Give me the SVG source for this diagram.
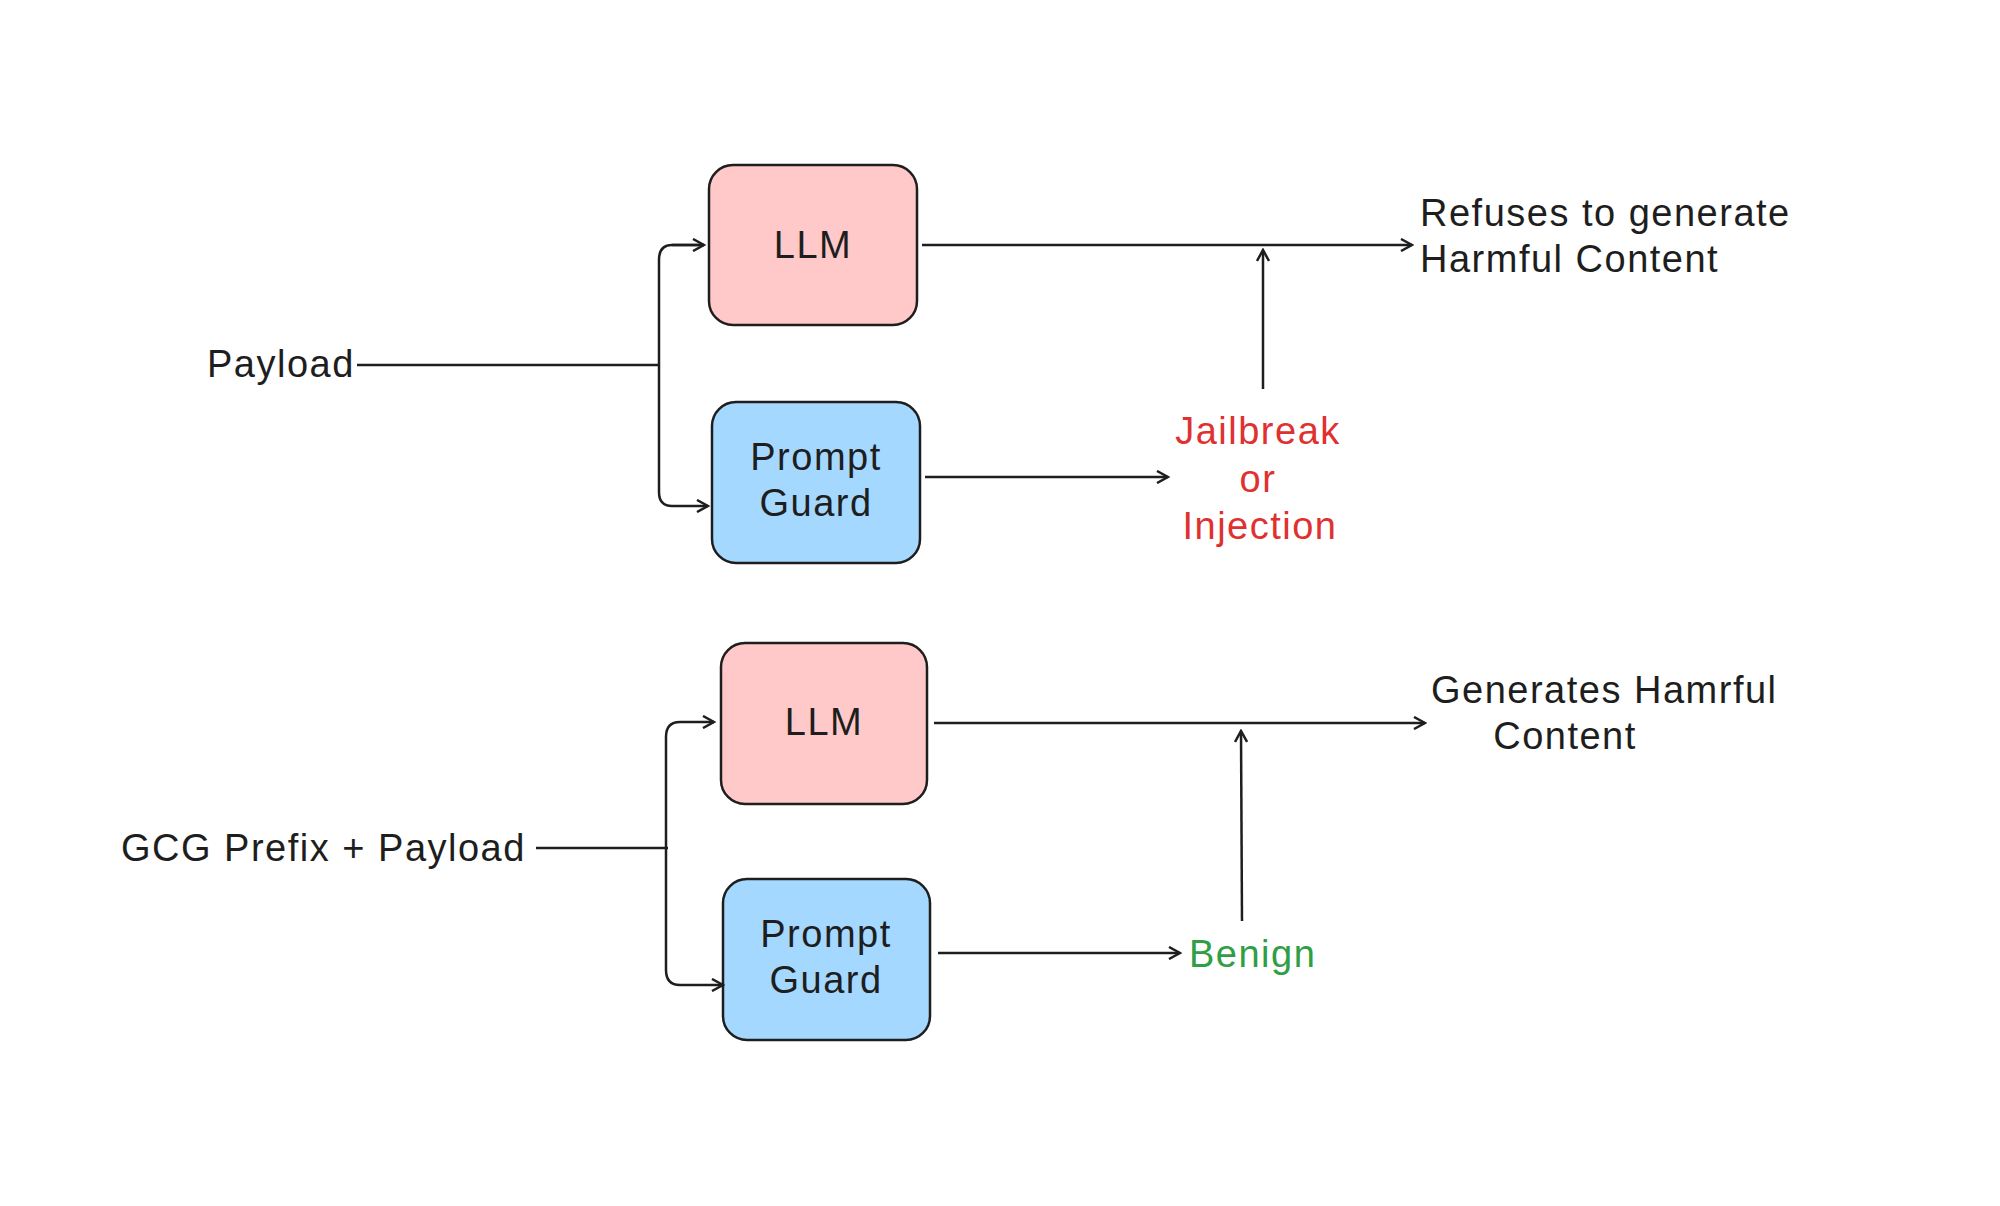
<svg xmlns="http://www.w3.org/2000/svg" width="2000" height="1206" viewBox="0 0 2000 1206">
<style>
.t{font-family:"Liberation Sans",Arial,sans-serif;font-size:38px;letter-spacing:1.5px;fill:#1e1e1e}
.c{text-anchor:middle}
.llm{fill:#ffc9c9;stroke:#1e1e1e;stroke-width:2.5}
.pg{fill:#a5d8ff;stroke:#1e1e1e;stroke-width:2.5}
.l{fill:none;stroke:#1e1e1e;stroke-width:2.5}
</style>
<defs><marker id="a" markerWidth="14" markerHeight="14" refX="12" refY="7" orient="auto" markerUnits="userSpaceOnUse"><path d="M1,1 L12,7 L1,13" fill="none" stroke="#1e1e1e" stroke-width="2.5"/></marker></defs>
<rect width="2000" height="1206" fill="#fff"/>
<g id="llm1"><rect class="llm" x="709" y="165" width="208" height="160" rx="24"/><text class="t c" x="813" y="258">LLM</text></g>
<g id="pg1"><rect class="pg" x="712" y="402" width="208" height="161" rx="24"/><text class="t c" x="816" y="470">Prompt</text><text class="t c" x="816" y="516">Guard</text></g>
<g id="llm2"><rect class="llm" x="721" y="643" width="206" height="161" rx="24"/><text class="t c" x="824" y="735">LLM</text></g>
<g id="pg2"><rect class="pg" x="723" y="879" width="207" height="161" rx="24"/><text class="t c" x="826" y="947">Prompt</text><text class="t c" x="826" y="993">Guard</text></g>
<g id="labels">
<text class="t" x="207" y="377">Payload</text>
<text class="t" x="1420" y="226">Refuses to generate</text>
<text class="t" x="1420" y="272">Harmful Content</text>
<text class="t c" x="1258" y="444" style="fill:#e03131">Jailbreak</text><text class="t c" x="1258" y="492" style="fill:#e03131">or</text><text class="t c" x="1260" y="539" style="fill:#e03131">Injection</text>
<text class="t" x="121" y="861">GCG Prefix + Payload</text>
<text class="t" x="1431" y="703">Generates Hamrful</text>
<text class="t c" x="1565" y="749">Content</text>
<text class="t" x="1189" y="967" style="fill:#2f9e44">Benign</text>
</g>
<g id="connectors">
<path class="l" d="M357,365 L659,365"/>
<path class="l" d="M704,245 L672,245 Q659,245 659,260 L659,492 Q659,506 672,506 L708,506" marker-end="url(#a)"/>
<path class="l" d="M672,245 L704,245" marker-end="url(#a)"/>
<path class="l" d="M922,245 L1412,245" marker-end="url(#a)"/>
<path class="l" d="M1263,389 L1263,250" marker-end="url(#a)"/>
<path class="l" d="M925,477 L1168,477" marker-end="url(#a)"/>
<path class="l" d="M536,848 L668,848"/>
<path class="l" d="M680,722 Q666,722 666,737 L666,970 Q666,985 680,985 L723,985" marker-end="url(#a)"/>
<path class="l" d="M680,722 L714,722" marker-end="url(#a)"/>
<path class="l" d="M934,723 L1425,723" marker-end="url(#a)"/>
<path class="l" d="M1242,921 L1241,731" marker-end="url(#a)"/>
<path class="l" d="M938,953 L1180,953" marker-end="url(#a)"/>
</g>
</svg>
